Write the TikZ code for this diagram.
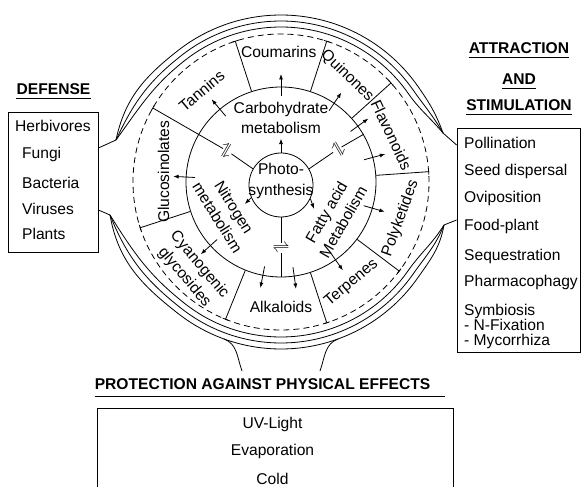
\documentclass[tikz,border=0pt]{standalone}
\usepackage{fontspec}
\setmainfont{Liberation Sans}
\usepackage{tikz}
\usetikzlibrary{arrows.meta}

\begin{document}
\begin{tikzpicture}[x=1pt, y=1pt,
    txt/.style={font=\fontsize{15.6}{19.5}\selectfont, align=center, inner sep=0pt},
    head/.style={font=\fontsize{15.6}{19}\selectfont\bfseries, inner sep=0pt, anchor=base},
    item/.style={font=\fontsize{15.6}{19}\selectfont, inner sep=0pt, anchor=base west},
    box/.style={draw, line width=0.8pt, inner sep=0pt},
    ring/.style={line width=0.8pt},
    divider/.style={line width=0.8pt, -{Bar[width=6pt]}},
    arr/.style={line width=0.8pt, -{Latex[length=5.5pt, width=4pt]}},
    equil/.style={font=\fontsize{17}{17}\selectfont, inner sep=0.5pt},
]
  \useasboundingbox (-281,-305) rectangle (300,182);
  \clip (-281,-305) rectangle (300,182);

  \node[circle, draw, line width=0.8pt, minimum size=64pt, inner sep=0pt] (ps) at (0,-3) {};
  \node[circle, draw, line width=0.8pt, minimum size=190pt, inner sep=0pt] (met) at (0,0) {};
  \node[circle, draw, line width=0.8pt, dash pattern=on 6pt off 4pt,
        minimum size=296pt, inner sep=0pt] (dsh) at (0,0) {};

  \node[txt] (pstext) at (0,1) {Photo-\\[2pt]synthesis};
  \node[txt] (carb) at (0,64) {Carbohydrate\\metabolism};
  \node[txt, rotate=-58] (nitro) at (209:63) {Nitrogen\\metabolism};
  \node[txt, rotate=60] (fatty) at (-33:64) {Fatty acid\\Metabolism};

  \node[txt] (coum) at (91:130) {Coumarins};
  \node[txt, rotate=-44] (quin) at (58:125) {Quinones};
  \node[txt, rotate=-65] (flav) at (23:120) {Flavonoids};
  \node[txt, rotate=70] (poly) at (-17:125) {Polyketides};
  \node[txt, rotate=40] (terp) at (-55:123) {Terpenes};
  \node[txt] (alka) at (0,-125) {Alkaloids};
  \node[txt, rotate=-50] (cyan) at (225:126) {Cyanogenic\\glycosides};
  \node[txt, rotate=90] (gluc) at (175:118) {Glucosinolates};
  \node[txt, rotate=40] (tann) at (131:121) {Tannins};

  \node[equil, rotate=60] (eqn) at (150:62) {$\rightleftharpoons$};
  \node[equil, rotate=-60] (eqf) at (30:65) {$\rightleftharpoons$};
  \node[equil] (eqb) at (0,-66) {$\rightleftharpoons$};

  \draw[ring] (ps.150) -- (eqn);
  \draw[divider] (eqn) -- (dsh.150);
  \draw[ring] (ps.30) -- (eqf) -- (met.30);
  \draw[ring] (ps.270) -- (eqb) -- (met.270);

  \foreach \a in {108, 72, 42, 4, 323, 288, 248, 198}
    \draw[divider] (met.\a) -- (dsh.\a);

  \foreach \a in {90, 130, 56, 36, 15, -16, -55, -82, -101, 222, 177}
    \draw[arr] (\a:86) -- (\a:108);
  \draw[arr] (ps.north) -- ++(0,14);
  \draw[arr] (ps.203) -- ++(225:9);
  \draw[arr] (ps.335) -- ++(-70:11);

  \coordinate (jul) at (-165,42);
  \coordinate (jll) at (-171,-33);
  \coordinate (jur) at (162,49);
  \coordinate (jlr) at (163,-43);
  \coordinate (stl) at (-39,-189);
  \coordinate (str) at (39,-189);

  \foreach \rr/\ur/\ul/\ll/\lr in {155/130/54/-58/-122, 161/120/65/-68/-112, 167/110/78/-80/-100} {
    \draw[ring] (jur) to[out=\ur, in=-55] (35:\rr pt)
      arc[start angle=35, end angle=128, radius=\rr pt]
      to[out=218, in=\ul] (jul);
    \draw[ring] (jll) to[out=\ll, in=142] (232:\rr pt)
      arc[start angle=232, end angle=325, radius=\rr pt]
      to[out=55, in=\lr] (jlr);
  }
  \draw[ring] (250:167pt) to[out=-20, in=110] (stl);
  \draw[ring] (290:167pt) to[out=200, in=70] (str);

  \node[head] (defhead) at (-227.5,87) {DEFENSE};
  \node[box, minimum width=90pt, minimum height=140pt] (defbox) at (-228,0) {};
  \node[item] (herb) at (-266,50) {Herbivores};
  \foreach \t/\y [count=\i] in {Fungi/23, Bacteria/-7, Viruses/-33, Plants/-58}
    \node[item] (def\i) at (-259,\y) {\t};

  \node[head] (att1) at (238,128.5) {ATTRACTION};
  \node[head] (att2) at (238,97) {AND};
  \node[head] (att3) at (238,71) {STIMULATION};
  \node[box, minimum width=123pt, minimum height=224pt] (attbox) at (237.5,-58) {};
  \foreach \t/\y [count=\i] in {Pollination/33, Seed dispersal/6, Oviposition/-21,
      Food-plant/-49, Sequestration/-78, Pharmacophagy/-105, Symbiosis/-133,
      - N-Fixation/-148, - Mycorrhiza/-163}
    \node[item] (use\i) at (183,\y) {\t};

  \node[head] (prothead) at (-18.5,-207) {PROTECTION AGAINST PHYSICAL EFFECTS};
  \node[box, minimum width=356pt, minimum height=86pt, anchor=north] (protbox) at (-6,-226) {};
  \foreach \t/\y [count=\i] in {UV-Light/-246, Evaporation/-273, Cold/-302}
    \node[item, anchor=base] (prot\i) at (-8.5,\y) {\t};

  \foreach \h in {defhead, att1, att2, att3}
    \draw[ring] ([yshift=-3.5pt]\h.base west) -- ([yshift=-3.5pt]\h.base east);
  \draw[ring] ([yshift=-7.5pt]prothead.base west) -- ([xshift=15pt, yshift=-7.5pt]prothead.base east);

  \draw[ring] (jul) -- ([yshift=34pt]defbox.east);
  \draw[ring] (jll) -- ([yshift=-28pt]defbox.east);
  \draw[ring] (jur) -- ([yshift=95pt]attbox.west);
  \draw[ring] (jlr) -- ([yshift=20pt]attbox.west);
\end{tikzpicture}
\end{document}
